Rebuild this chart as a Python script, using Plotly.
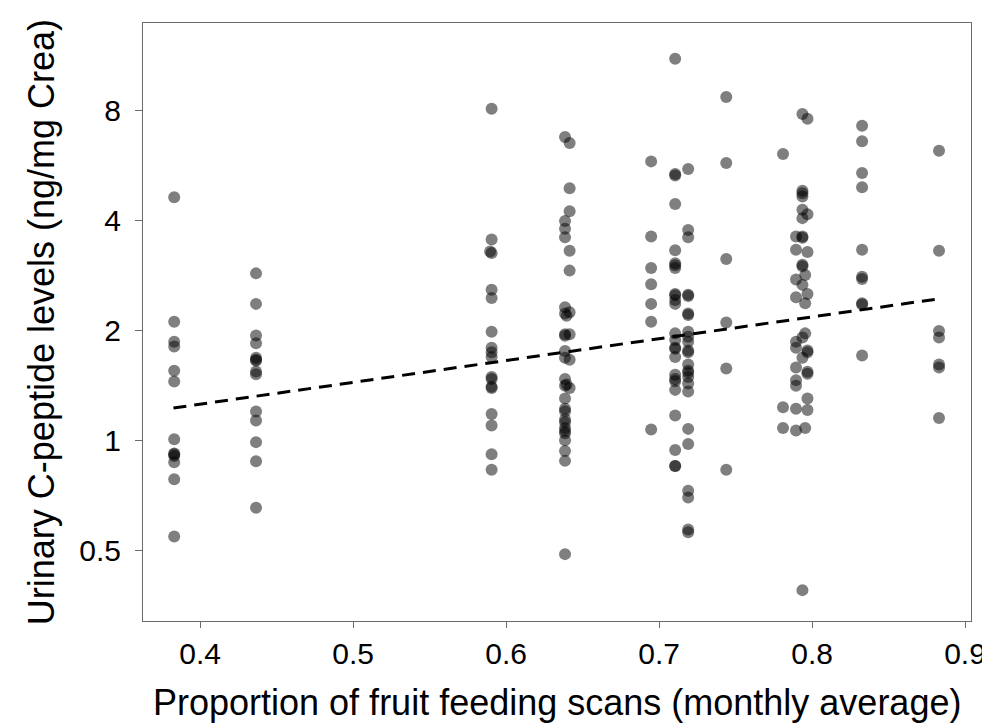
"""C-peptide vs fruit feeding scatter with log-scale y axis"""
import plotly.graph_objects as go

# Monthly proportion of fruit feeding scans (x) and urinary C-peptide (y), grouped by column
x_038 = [0.383] * 13
y_038 = [4.62, 2.11, 1.86, 1.805, 1.548, 1.447, 1.006, 0.92, 0.915, 0.906, 0.871, 0.782, 0.545]

x_044 = [0.4365] * 14
y_044 = [2.86, 2.36, 1.935, 1.843, 1.68, 1.66, 1.65, 1.541, 1.516, 1.198, 1.132, 0.988, 0.876, 0.654]

x_059 = [0.5905, 0.5905, 0.5895, 0.5905, 0.5905, 0.5905, 0.5905, 0.5905, 0.5905,
         0.5905, 0.5905, 0.5905, 0.5905, 0.5905, 0.5905, 0.5905, 0.5905, 0.5905]
y_059 = [8.07, 3.54, 3.28, 3.25, 2.58, 2.45, 1.98, 1.79, 1.74,
         1.69, 1.49, 1.47, 1.40, 1.39, 1.18, 1.097, 0.916, 0.83]

x_064 = [0.6385, 0.6415, 0.6415, 0.6415, 0.6385, 0.6385, 0.6385, 0.6415, 0.6415,
         0.6385, 0.6385, 0.6395, 0.6415, 0.6385, 0.6415, 0.6385, 0.6385, 0.6385,
         0.6415, 0.6385, 0.6385, 0.6395, 0.6415, 0.6385, 0.6385, 0.6385, 0.6385,
         0.6385, 0.6385, 0.6385, 0.6385, 0.6385, 0.6385, 0.6385, 0.6385]
y_064 = [6.75, 6.5, 4.89, 4.23, 3.98, 3.79, 3.59, 3.30, 2.91,
         2.31, 2.22, 2.19, 2.24, 1.95, 1.95, 1.93, 1.755, 1.68,
         1.66, 1.47, 1.41, 1.42, 1.39, 1.30, 1.22, 1.20, 1.14,
         1.12, 1.08, 1.06, 1.045, 1.0, 0.935, 0.878, 0.488]

x_070 = [0.6948] * 7
y_070 = [5.79, 3.61, 2.96, 2.67, 2.36, 2.11, 1.07]

x_071 = [0.7105] * 25
y_071 = [11.05, 5.35, 5.30, 4.43, 3.31, 3.05, 3.01, 2.96, 2.51, 2.49, 2.42, 2.36,
         1.96, 1.88, 1.79, 1.78, 1.69, 1.51, 1.47, 1.45, 1.373, 1.168, 0.94, 0.85, 0.85]

x_072 = [0.719] * 24
y_072 = [5.52, 3.76, 3.59, 2.50, 2.48, 2.22, 2.20, 1.98, 1.92, 1.86, 1.76, 1.74,
         1.61, 1.55, 1.53, 1.49, 1.43, 1.36, 1.074, 0.977, 0.727, 0.697, 0.57, 0.56]

x_074 = [0.7439] * 6
y_074 = [8.68, 5.73, 3.13, 2.1, 1.57, 0.83]

x_078 = [0.781] * 3
y_078 = [6.07, 1.23, 1.08]

x_079 = [0.7937, 0.797, 0.7937, 0.7937, 0.7937, 0.7937, 0.797, 0.7937, 0.7895, 0.7937,
         0.7937, 0.7895, 0.797, 0.7937, 0.7937, 0.7955, 0.7895, 0.7937, 0.797, 0.7895,
         0.7955, 0.7955, 0.7937, 0.7895, 0.7895, 0.797, 0.797, 0.7937, 0.7895, 0.797,
         0.797, 0.7895, 0.7895, 0.797, 0.7895, 0.797, 0.7895, 0.7955, 0.7937]
y_079 = [7.8, 7.57, 4.81, 4.74, 4.64, 4.27, 4.15, 4.05, 3.61, 3.61,
         3.58, 3.32, 3.27, 3.02, 2.99, 2.83, 2.75, 2.66, 2.51, 2.46,
         2.37, 1.96, 1.91, 1.86, 1.79, 1.76, 1.74, 1.68, 1.58, 1.54,
         1.52, 1.46, 1.41, 1.30, 1.22, 1.21, 1.063, 1.08, 0.389]

x_083 = [0.8327] * 10
y_083 = [7.25, 6.57, 5.38, 4.92, 3.32, 2.8, 2.76, 2.37, 2.35, 1.705]

x_088 = [0.883] * 7
y_088 = [6.19, 3.3, 1.99, 1.91, 1.61, 1.58, 1.15]

# Fitted trend line (end points)
fit_x = [0.3825, 0.883]
fit_y = [1.225, 2.437]

y_ticks = [0.5, 1, 2, 4, 8]
x_ticks = [0.4, 0.5, 0.6, 0.7, 0.8, 0.9]

FONT = "Arial, Liberation Sans, Helvetica, sans-serif"
AXIS_GRAY = "#6b6b6b"

xs = x_038 + x_044 + x_059 + x_064 + x_070 + x_071 + x_072 + x_074 + x_078 + x_079 + x_083 + x_088
ys = y_038 + y_044 + y_059 + y_064 + y_070 + y_071 + y_072 + y_074 + y_078 + y_079 + y_083 + y_088

fig = go.Figure()

fig.add_trace(go.Scatter(
    x=xs,
    y=ys,
    mode='markers',
    marker=dict(size=12, color='rgba(0,0,0,0.5)', line=dict(width=0)),
    showlegend=False
))

fig.add_trace(go.Scatter(
    x=fit_x,
    y=fit_y,
    mode='lines',
    line=dict(color='black', width=3, dash='13px,8px'),
    showlegend=False
))

fig.update_layout(
    width=990,
    height=726,
    margin=dict(l=135, r=16, t=15, b=113),
    plot_bgcolor='white',
    paper_bgcolor='white',
    font=dict(family=FONT, color='black', size=30),
    xaxis=dict(
        range=[0.3626, 0.9039],
        tickvals=x_ticks,
        ticktext=[str(v) for v in x_ticks],
        ticks='outside', ticklen=6, tickwidth=1, tickcolor=AXIS_GRAY,
        showline=True, linecolor=AXIS_GRAY, linewidth=1, mirror=True,
        showgrid=False, zeroline=False,
        tickfont=dict(size=30),
    ),
    yaxis=dict(
        type='log',
        range=[-0.4945, 1.1412],
        tickvals=y_ticks,
        ticktext=[str(v) for v in y_ticks],
        ticks='outside', ticklen=7, tickwidth=1, tickcolor=AXIS_GRAY,
        showline=True, linecolor=AXIS_GRAY, linewidth=1, mirror=True,
        showgrid=False, zeroline=False,
        tickfont=dict(size=30),
        ticklabelstandoff=8,
    ),
)

# Axis titles
fig.add_annotation(
    text='Proportion of fruit feeding scans (monthly average)',
    xref='paper', yref='paper', x=0.5, y=-0.136,
    xanchor='center', yanchor='middle', showarrow=False,
    font=dict(size=36, family=FONT, color='black')
)
fig.add_annotation(
    text='Urinary C-peptide levels (ng/mg Crea)',
    xref='paper', yref='paper', x=-0.123, y=0.5,
    xanchor='center', yanchor='middle', textangle=-90, showarrow=False,
    font=dict(size=36, family=FONT, color='black')
)

fig.write_html("out.html")
